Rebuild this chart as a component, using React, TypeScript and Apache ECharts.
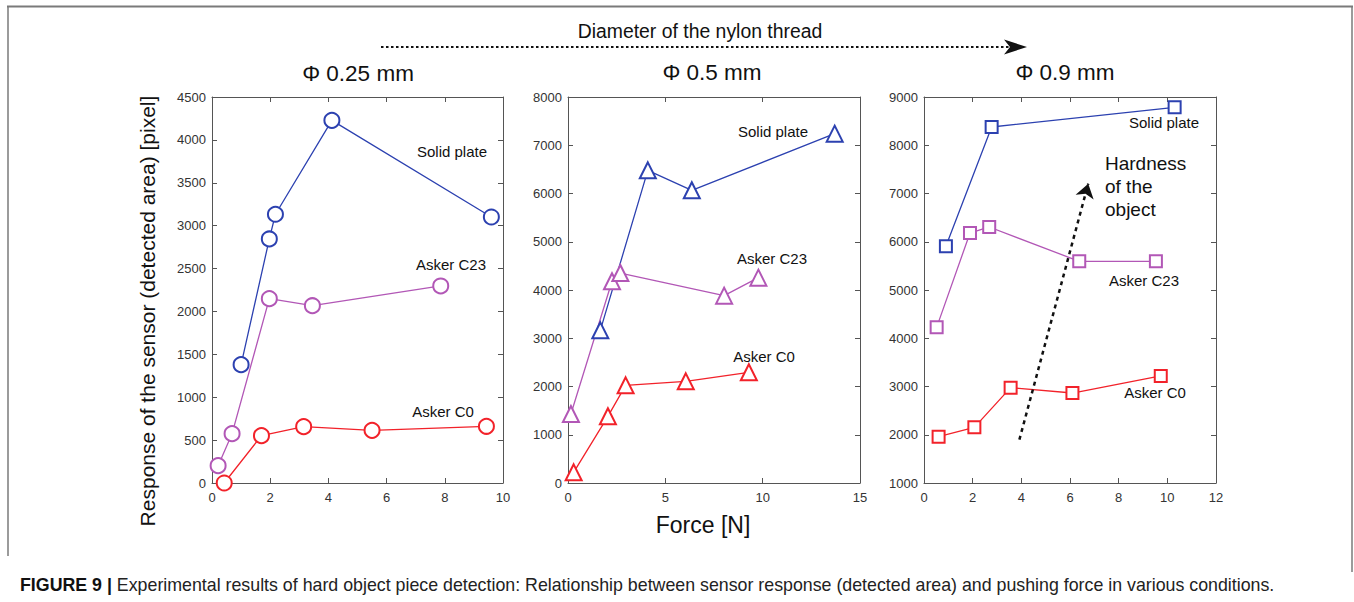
import React, { useEffect, useRef } from "react";
import * as echarts from "echarts";

// ---- data (Force [N], Response [pixel]) ----
const p1Solid: number[][] = [[1.0, 1380], [1.97, 2845], [2.18, 3133], [4.12, 4228], [9.6, 3101]];
const p1C23: number[][] = [[0.21, 202], [0.69, 575], [1.97, 2149], [3.45, 2067], [7.86, 2297]];
const p1C0: number[][] = [[0.42, 0], [1.7, 552], [3.15, 657], [5.5, 614], [9.43, 661]];

const p2Solid: number[][] = [[1.66, 3164], [4.1, 6480], [6.36, 6066], [13.7, 7240]];
const p2C23: number[][] = [[0.15, 1430], [2.26, 4180], [2.69, 4352], [8.02, 3883], [9.78, 4256]];
const p2C0: number[][] = [[0.29, 221], [2.05, 1382], [2.96, 2024], [6.05, 2107], [9.29, 2294]];

const p3Solid: number[][] = [[0.9, 5905], [2.78, 8378], [10.3, 8786]];
const p3C23: number[][] = [[0.52, 4226], [1.89, 6181], [2.68, 6306], [6.38, 5594], [9.53, 5594]];
const p3C0: number[][] = [[0.6, 1960], [2.07, 2154], [3.56, 2976], [6.1, 2865], [9.73, 3218]];

const hardnessArrow: number[][] = [[3.92, 1898], [6.75, 7204]];

const panelTitles = ["Φ 0.25 mm", "Φ 0.5 mm", "Φ 0.9 mm"];
const seriesNames = ["Solid plate", "Asker C23", "Asker C0"];
const xRanges = [[0, 10, 2], [0, 15, 5], [0, 12, 2]];
const yRanges = [[0, 4500, 500], [0, 8000, 1000], [1000, 9000, 1000]];

const COLORS = ["#2c41b0", "#b257b6", "#f2222a"];
const FONT = "'Liberation Sans', Arial, sans-serif";

export default function App() {
  const ref = useRef<HTMLDivElement>(null);
  useEffect(() => {
    if (!ref.current) return;
    const chart = echarts.init(ref.current, undefined, { renderer: "svg" });
    const grids = [
      { left: 212, top: 97, width: 291, height: 386 },
      { left: 568, top: 97, width: 292, height: 386 },
      { left: 924, top: 97, width: 292, height: 386 },
    ];
    const mkLine = () => ({ show: true, onZero: false, lineStyle: { color: "#555", width: 1 } });
    const mkTick = () => ({ show: true, inside: true, length: 5, lineStyle: { color: "#555" } });
    const fmt = (v: number) => String(v);
    const xAxis: any[] = [];
    const yAxis: any[] = [];
    grids.forEach((_, i) => {
      const [xmin, xmax, xint] = xRanges[i];
      const [ymin, ymax, yint] = yRanges[i];
      xAxis.push({
        type: "value", gridIndex: i, min: xmin, max: xmax, interval: xint, position: "bottom",
        axisLine: mkLine(), axisTick: mkTick(), splitLine: { show: false },
        axisLabel: { fontSize: 13, color: "#333", margin: 8, fontFamily: FONT, formatter: fmt },
      });
      xAxis.push({
        type: "value", gridIndex: i, min: xmin, max: xmax, interval: xint, position: "top",
        axisLine: mkLine(), axisTick: mkTick(), splitLine: { show: false }, axisLabel: { show: false },
      });
      yAxis.push({
        type: "value", gridIndex: i, min: ymin, max: ymax, interval: yint, position: "left",
        axisLine: mkLine(), axisTick: mkTick(), splitLine: { show: false },
        axisLabel: { fontSize: 13, color: "#333", margin: 6, fontFamily: FONT, formatter: fmt },
      });
      yAxis.push({
        type: "value", gridIndex: i, min: ymin, max: ymax, interval: yint, position: "right",
        axisLine: mkLine(), axisTick: mkTick(), splitLine: { show: false }, axisLabel: { show: false },
      });
    });

    const panels = [
      { data: [p1Solid, p1C23, p1C0], symbol: "emptyCircle", size: 15 },
      { data: [p2Solid, p2C23, p2C0], symbol: "emptyTriangle", size: 16 },
      { data: [p3Solid, p3C23, p3C0], symbol: "emptyRect", size: 12 },
    ];
    const series: any[] = [];
    panels.forEach((p, i) => {
      p.data.forEach((d, k) => {
        series.push({
          type: "line", name: seriesNames[k] + " " + panelTitles[i],
          xAxisIndex: i * 2, yAxisIndex: i * 2, data: d,
          symbol: p.symbol, symbolSize: p.size,
          lineStyle: { color: COLORS[k], width: 1.3 },
          itemStyle: { color: COLORS[k], borderColor: COLORS[k], borderWidth: 1.3 },
          z: 3,
        });
      });
    });
    series.push({
      type: "lines", coordinateSystem: "cartesian2d", xAxisIndex: 4, yAxisIndex: 4,
      data: [{ coords: hardnessArrow }],
      symbol: ["none", "arrow"], symbolSize: [0, 14],
      lineStyle: { color: "#111", width: 2.5, type: [4, 4], opacity: 1 },
      z: 4,
    });

    const label = (text: string, x: number, y: number, size = 15, align = "center") => ({
      type: "text", x, y,
      style: { text, fontSize: size, fontFamily: FONT, fill: "#111", align, verticalAlign: "middle" },
    });

    const graphic: any[] = [
      { type: "line", shape: { x1: 7, y1: 6.5, x2: 1353, y2: 6.5 }, style: { stroke: "#7a7a7a", lineWidth: 2 } },
      { type: "line", shape: { x1: 8, y1: 6, x2: 8, y2: 556 }, style: { stroke: "#7a7a7a", lineWidth: 1.5 } },
      { type: "line", shape: { x1: 1352, y1: 6, x2: 1352, y2: 572 }, style: { stroke: "#7a7a7a", lineWidth: 1.5 } },
      label("Diameter of the nylon thread", 700, 31, 19.4),
      { type: "line", shape: { x1: 381, y1: 47, x2: 1010, y2: 47 }, style: { stroke: "#111", lineWidth: 2, lineDash: [2.5, 2.5] } },
      { type: "polygon", shape: { points: [[1027, 47], [1004, 39.5], [1010, 47], [1004, 54.5]] }, style: { fill: "#111" } },
      label(panelTitles[0], 358, 73, 22.5),
      label(panelTitles[1], 712, 72, 22.5),
      label(panelTitles[2], 1065, 72, 22.5),
      {
        type: "text", x: 147, y: 311, rotation: Math.PI / 2,
        style: { text: "Response of the sensor (detected area) [pixel]", fontSize: 21, fontFamily: FONT, fill: "#111", align: "center", verticalAlign: "middle" },
      },
      label("Force [N]", 703, 525, 23),
      label(seriesNames[0], 452, 151),
      label(seriesNames[1], 451, 264),
      label(seriesNames[2], 443, 411),
      label(seriesNames[0], 773, 131),
      label(seriesNames[1], 772, 258),
      label(seriesNames[2], 764, 356),
      label(seriesNames[0], 1164, 122),
      label(seriesNames[1], 1144, 280),
      label(seriesNames[2], 1155, 392),
      label("Hardness", 1105, 163, 19, "left"),
      label("of the", 1105, 186, 19, "left"),
      label("object", 1105, 209, 19, "left"),
      {
        type: "text", x: 20, y: 585,
        style: {
          text: "{b|FIGURE 9 |} Experimental results of hard object piece detection: Relationship between sensor response (detected area) and pushing force in various conditions.",
          fontSize: 17.8, fontFamily: FONT, fill: "#222", verticalAlign: "middle",
          rich: { b: { fontSize: 17.8, fontWeight: "bold", fontFamily: FONT, fill: "#111" } },
        },
      },
    ];

    chart.setOption({
      animation: false,
      backgroundColor: "#fff",
      grid: grids,
      xAxis, yAxis, series, graphic,
    });
    return () => chart.dispose();
  }, []);
  return <div ref={ref} style={{ position: "fixed", left: 0, top: 0, width: 1354, height: 602 }} />;
}
